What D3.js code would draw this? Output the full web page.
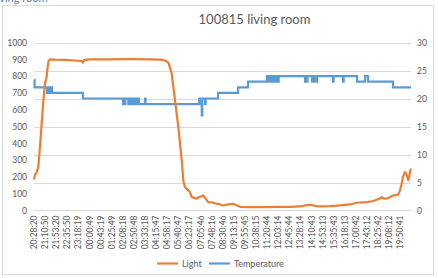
<!DOCTYPE html>
<html lang="en">
<head>
    <title>100815 living room</title>
    <script src='https://d3js.org/d3.v7.min.js'></script>
    <style>
        body { margin: 0; background: #fff; }
        text { font-family: Lato, "Open Sans", sans-serif; fill: #595959; }
    </style>
</head>
<body>
<script>
    // ---- data (x = position in label steps, 0 = first time label) ----
    const timeLabels = ["20:28:20","21:10:50","21:53:20","22:35:50","23:18:19","00:00:49","00:43:19",
        "01:25:49","02:08:18","02:50:48","03:33:18","04:15:47","04:58:17","05:40:47","06:23:17",
        "07:05:46","07:48:16","08:30:46","09:13:15","09:55:45","10:38:15","11:20:44","12:03:14",
        "12:45:44","13:28:14","14:10:43","14:53:13","15:35:43","16:18:13","17:00:42","17:43:12",
        "18:25:42","19:08:12","19:50:41"];

    // Light (left axis)
    const lightData = [
        [0.00,185],[0.09,215],[0.23,225],[0.39,260],[0.54,380],[0.69,519],[0.84,650],[0.99,758],
        [1.13,790],[1.20,840],[1.31,890],[1.44,900],[1.89,898],[2.79,896],[3.69,893],[4.32,890],
        [4.41,880],[4.50,895],[5.05,900],[6.85,900],[8.65,901],[10.45,900],[11.35,898],[11.80,893],
        [12.10,880],[12.25,850],[12.40,816],[12.70,657],[13.00,497],[13.15,400],[13.31,298],
        [13.45,179],[13.60,139],[13.90,119],[14.05,110],[14.21,80],[14.41,75],[14.66,70],[14.82,78],
        [15.11,85],[15.25,90],[15.41,75],[15.70,50],[16.04,48],[16.46,40],[16.76,36],[17.03,30],
        [17.48,36],[17.93,40],[18.29,30],[18.56,22],[19.46,20],[20.96,20],[22.16,22],[23.06,22],
        [23.96,24],[24.41,30],[24.86,34],[25.32,28],[25.77,24],[26.67,26],[27.57,30],[28.47,36],
        [29.07,46],[29.97,50],[30.45,55],[30.87,64],[31.17,72],[31.32,79],[31.53,72],[31.77,70],
        [32.07,80],[32.37,90],[32.61,92],[32.82,96],[32.97,120],[33.12,159],[33.24,200],[33.42,229],
        [33.56,215],[33.63,199],[33.71,180],[33.78,195],[33.87,230],[33.96,250]];

    // Temperature (right axis), value holds until the next entry
    const tempData = [
        [0.00,23.3],[0.05,22],[1.17,21],[1.24,22],[1.32,21],[1.39,22],[1.47,21],[1.53,22],[1.62,21],
        [4.41,20],[8.02,19],[8.05,20],[8.20,19],[8.24,20],[8.50,19],[8.65,20],[8.74,19],[8.83,20],
        [8.92,19],[9.01,20],[9.10,19],[9.19,20],[9.28,19],[9.37,20],[9.46,19],[10.00,20],[10.05,19],
        [14.89,20],[14.95,19],[15.11,17],[15.16,20],[15.41,19],[15.46,20],[16.58,21],[18.38,22],
        [19.28,23],[20.99,24],[21.04,23],[21.17,24],[21.26,23],[21.35,24],[21.44,23],[21.53,24],
        [21.62,23],[21.71,24],[21.80,23],[21.94,24],[21.98,23],[22.04,24],[24.41,23],[24.47,24],
        [24.55,23],[24.64,24],[25.05,23],[25.14,24],[25.23,23],[25.32,24],[25.41,23],[25.50,24],
        [26.94,23],[26.99,24],[27.84,23],[27.89,24],[29.10,23],[29.82,24],[30.09,23],[32.34,22],
        [33.96,22]];

    const leftTicks  = [0,100,200,300,400,500,600,700,800,900,1000];
    const rightTicks = [0,5,10,15,20,25,30];
    const seriesNames = ["Light","Temperature"];
    const seriesColors = ["#ED7D31","#5B9BD5"];

    // ---- layout ----
    const width = 438, height = 278;
    const plotLeft = 34, plotRight = 411, plotTop = 42.5, plotBottom = 210.5;

    const svg = d3.select("body").append("svg")
        .attr("width", width).attr("height", height);

    // heading from the sheet above the chart, clipped by the top edge as in the screenshot
    svg.append("text").attr("x", -6).attr("y", 2)
        .style("font-size", "11px").style("fill", "#4f81bd")
        .text("living room");

    // chart area border
    svg.append("rect")
        .attr("x", 2.5).attr("y", 5.5).attr("width", 431).attr("height", 269)
        .attr("fill", "#fff").attr("stroke", "#d9d9d9");

    // scales
    const x = d3.scaleLinear().domain([0, 33.96]).range([plotLeft, plotRight]);
    const yL = d3.scaleLinear().domain([0, 1000]).range([plotBottom, plotTop]);
    const yR = d3.scaleLinear().domain([0, 30]).range([plotBottom, plotTop]);

    // gridlines (follow the right axis)
    svg.append("g").selectAll("line").data(rightTicks.slice(1)).enter()
        .append("line")
        .attr("x1", plotLeft).attr("x2", plotRight)
        .attr("y1", d => Math.round(yR(d)) + 0.5).attr("y2", d => Math.round(yR(d)) + 0.5)
        .attr("stroke", "#d9d9d9").attr("stroke-width", 1);

    // left axis
    const gl = svg.append("g")
        .attr("transform", `translate(${plotLeft - 7},0)`)
        .call(d3.axisLeft(yL).tickValues(leftTicks).tickFormat(d3.format("d")).tickSize(0).tickPadding(0));
    gl.select(".domain").remove();
    gl.selectAll("text").style("font-size", "8.5px");

    // right axis
    const gr = svg.append("g")
        .attr("transform", `translate(${plotRight + 6},0)`)
        .call(d3.axisRight(yR).tickValues(rightTicks).tickFormat(d3.format("d")).tickSize(0).tickPadding(0));
    gr.select(".domain").remove();
    gr.selectAll("text").style("font-size", "8.5px");

    // bottom axis line + rotated time labels
    svg.append("line")
        .attr("x1", plotLeft).attr("x2", plotRight)
        .attr("y1", plotBottom).attr("y2", plotBottom)
        .attr("stroke", "#d9d9d9");

    svg.append("g").selectAll("text").data(timeLabels).enter()
        .append("text")
        .attr("transform", (d, i) => `translate(${x(i) + 3},${plotBottom + 5}) rotate(-90)`)
        .attr("text-anchor", "end")
        .style("font-size", "8.5px")
        .text(d => d);

    // temperature line (step)
    svg.append("path")
        .datum(tempData)
        .attr("fill", "none")
        .attr("stroke", seriesColors[1])
        .attr("stroke-width", 2.2)
        .attr("d", d3.line().curve(d3.curveStepAfter)
            .x(d => x(d[0]))
            .y(d => yR(d[1])));

    // light line
    svg.append("path")
        .datum(lightData)
        .attr("fill", "none")
        .attr("stroke", seriesColors[0])
        .attr("stroke-width", 2.2)
        .attr("stroke-linejoin", "round")
        .attr("d", d3.line()
            .x(d => x(d[0]))
            .y(d => yL(d[1])));

    // title
    svg.append("text")
        .attr("x", 254.5).attr("y", 24)
        .attr("text-anchor", "middle")
        .style("font-size", "13px")
        .text("100815 living room");

    // legend
    const legX = [157, 209];
    const leg = svg.append("g").selectAll("g").data(seriesNames).enter()
        .append("g")
        .attr("transform", (d, i) => `translate(${legX[i]},263.5)`);
    leg.append("line")
        .attr("x1", 0).attr("x2", 21).attr("y1", 0).attr("y2", 0)
        .attr("stroke", (d, i) => seriesColors[i]).attr("stroke-width", 2.2);
    leg.append("text")
        .attr("x", 25).attr("y", 3.2)
        .style("font-size", "9px")
        .text(d => d);
</script>
</body>
</html>
